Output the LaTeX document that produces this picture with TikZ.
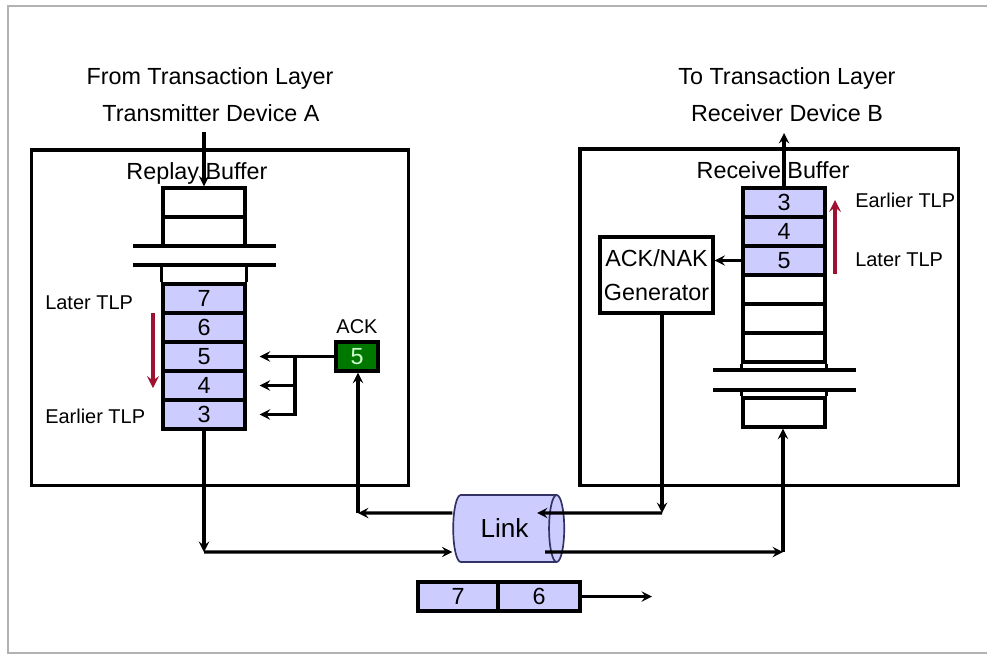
\documentclass[tikz,border=0pt]{standalone}
\usepackage{fontspec}
\setmainfont{Liberation Sans}
\usetikzlibrary{shapes.geometric, arrows}
\definecolor{tlpblue}{RGB}{204,204,255}
\definecolor{ackgreen}{RGB}{0,120,0}
\definecolor{acktext}{RGB}{205,255,205}
\definecolor{orderred}{RGB}{160,16,48}
\definecolor{linkline}{RGB}{50,50,100}
\tikzstyle{heading} = [font=\fontsize{16.6}{20}\selectfont, inner sep=0pt]
\tikzstyle{note} = [font=\fontsize{14.2}{17}\selectfont, inner sep=0pt]
\tikzstyle{device} = [rectangle, draw=black, line width=2.2pt]
\tikzstyle{cell} = [rectangle, draw=black, line width=2.4pt, fill=tlpblue, minimum width=2.05cm, minimum height=0.725cm, inner sep=0pt, font=\fontsize{16.6}{20}\selectfont]
\tikzstyle{freecell} = [cell, fill=white]
\tikzstyle{gap} = [line width=2.2pt]
\tikzstyle{arrow} = [line width=2.2pt, ->, >=stealth]
\tikzstyle{order} = [line width=2.6pt, draw=orderred, ->, >=stealth]

\begin{document}
\begin{tikzpicture}[x=0.025cm, y=-0.025cm]
	\useasboundingbox (0,0) rectangle (987,654);
	\draw [gray!60, line width=0.8pt] (987,6) -- (8,6) -- (8,653) -- (987,653);

	% device boxes
	\node (devA) [device, minimum width=9.4cm, minimum height=8.375cm] at (220,317.5) {};
	\node (devB) [device, minimum width=9.45cm, minimum height=8.4cm] at (769,317) {};

	\node (fromtl) [heading] at (210,78) {From Transaction Layer};
	\node (txdev) [heading] at (211,113) {Transmitter Device A};
	\node (totl) [heading] at (787,78) {To Transaction Layer};
	\node (rxdev) [heading] at (787,113) {Receiver Device B};

	\node (replaylbl) [heading] at (197,173) {Replay Buffer};
	\node (receivelbl) [heading] at (773,170) {Receive Buffer};

	% replay buffer
	\node (ltop1) [freecell] at (204,202.5) {};
	\node (ltop2) [freecell] at (204,231.5) {};
	\node (lc7) [cell] at (204,298.5) {7};
	\node (lc6) [cell] at (204,327.5) {6};
	\node (lc5) [cell] at (204,356.5) {5};
	\node (lc4) [cell] at (204,385.5) {4};
	\node (lc3) [cell] at (204,414.5) {3};
	\draw [gap] (lc7.north west) -- ++(0,-19);
	\draw [gap] (lc7.north east) -- ++(0,-19);
	\draw [gap] (133,246) -- (276,246);
	\draw [gap] (133,265) -- (276,265);

	\node (latertx) [note, anchor=west] at (45,303) {Later TLP};
	\node (earliertx) [note, anchor=west] at (45,416) {Earlier TLP};
	\draw [order] (153,313) -- (153,388);

	\node (acklbl) [note] at (357,327) {ACK};
	\node (ack) [cell, fill=ackgreen, text=acktext, minimum width=1.05cm] at (357,356.5) {5};

	% receive buffer
	\node (rc3) [cell] at (784,202.5) {3};
	\node (rc4) [cell] at (784,231.5) {4};
	\node (rc5) [cell] at (784,260.5) {5};
	\node (rfree1) [freecell] at (784,289.5) {};
	\node (rfree2) [freecell] at (784,318.5) {};
	\node (rfree3) [freecell] at (784,347.5) {};
	\node (rlast) [freecell] at (784,412.5) {};
	\draw [gap] (rfree3.south west) -- ++(0,8);
	\draw [gap] (rfree3.south east) -- ++(0,8);
	\draw [gap] (rlast.north west) -- ++(0,-8);
	\draw [gap] (rlast.north east) -- ++(0,-8);
	\draw [gap] (713,370) -- (856,370);
	\draw [gap] (713,390) -- (856,390);

	\node (earlierrx) [note, anchor=west] at (855,200) {Earlier TLP};
	\node (laterrx) [note, anchor=west] at (855,260) {Later TLP};
	\draw [order] (835,274) -- (835,200);

	\node (gen) [device, minimum width=2.825cm, minimum height=1.9cm, inner sep=0pt, align=center, font=\fontsize{16.6}{24}\selectfont] at (656.5,275) {ACK/NAK\\Generator};

	% link and packets on it
	\node (link) [cylinder, shape border rotate=0, aspect=0.8, draw=linkline, line width=1.2pt, cylinder uses custom fill, cylinder body fill=tlpblue, cylinder end fill=tlpblue, minimum width=1.675cm, minimum height=2.775cm, inner sep=0pt, font=\fontsize{18.6}{22}\selectfont] at (504.5,528.5) {Link};

	\node (p7) [cell, minimum width=2cm] at (458,596.5) {7};
	\node (p6) [cell] at (539,596.5) {6};
	\coordinate (pktout) at (652,596.5);
	\draw [arrow] (p6.east) -- (pktout);

	% connectors
	\coordinate (fromtop) at (204,132);
	\coordinate (totop) at (784,133);
	\draw [arrow] (fromtop) -- (ltop1.north);
	\draw [arrow] (rc3.north) -- (totop);

	\coordinate (fork) at (295,356.5);
	\draw [arrow, shorten >=0.325cm] (ack.west) -- (lc5.east);
	\draw [arrow, shorten >=0.325cm] (fork) |- (lc4.east);
	\draw [arrow, shorten >=0.325cm] (fork) |- (lc3.east);

	\draw [arrow] (rc5.west) -- (rc5.west -| gen.east);

	\coordinate (txbend) at (204,552);
	\coordinate (rxbend) at (783,552);
	\coordinate (ackbend) at (358,513);
	\coordinate (genbend) at (662,513);

	\draw [arrow] (lc3.south) -- (txbend);
	\draw [arrow] (txbend) -- ([yshift=-0.5875cm]link.west);
	\draw [arrow] ([xshift=-0.5cm, yshift=-0.5875cm]link.east) -- (rxbend);
	\draw [arrow] (rxbend) -- (rxbend |- rlast.south);

	\draw [arrow] (gen.south -| genbend) -- (genbend);
	\draw [arrow] (genbend) -- ([xshift=-0.7cm, yshift=0.3875cm]link.east);
	\draw [arrow] ([yshift=0.3875cm]link.west) -- (ackbend);
	\draw [arrow] (ackbend) -- (ackbend |- ack.south);
\end{tikzpicture}
\end{document}
